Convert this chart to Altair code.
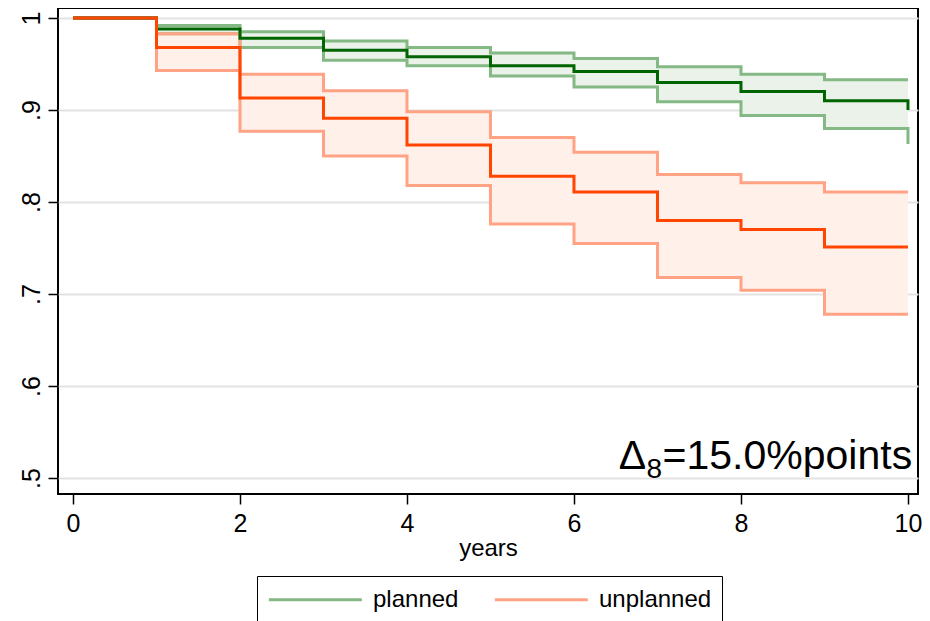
import altair as alt
import pandas as pd

# ---- data ----
years = [0, 1, 2, 3, 4, 5, 6, 7, 8, 9, 10]
groups = ["planned", "unplanned"]

planned_surv  = [1.0, 0.988, 0.978, 0.965, 0.958, 0.948, 0.942, 0.930, 0.920, 0.910, 0.900]
planned_lower = [1.0, 0.983, 0.968, 0.954, 0.948, 0.937, 0.925, 0.909, 0.894, 0.880, 0.863]
planned_upper = [1.0, 0.992, 0.985, 0.975, 0.968, 0.962, 0.956, 0.947, 0.939, 0.933, 0.933]

unplanned_surv  = [1.0, 0.968, 0.913, 0.891, 0.862, 0.828, 0.811, 0.780, 0.770, 0.751, 0.751]
unplanned_lower = [1.0, 0.943, 0.877, 0.850, 0.818, 0.776, 0.755, 0.718, 0.704, 0.678, 0.678]
unplanned_upper = [1.0, 0.983, 0.939, 0.921, 0.898, 0.870, 0.854, 0.830, 0.821, 0.811, 0.811]

x_ticks = [0, 2, 4, 6, 8, 10]
y_ticks = [0.5, 0.6, 0.7, 0.8, 0.9, 1.0]
x_title = "years"

anno_delta = "Δ"
anno_sub = "8"
anno_main = "=15.0%points"
anno_x = [10.05]
anno_y = [0.51]

# ---- tables ----
rows = []
for g, s, lo, hi in [("planned", planned_surv, planned_lower, planned_upper),
                     ("unplanned", unplanned_surv, unplanned_lower, unplanned_upper)]:
    for t, a, b, c in zip(years, s, lo, hi):
        rows.append({"group": g, "t": t, "s": a, "lo": b, "hi": c})
df = pd.DataFrame(rows)
ci_long = df.melt(id_vars=["group", "t"], value_vars=["lo", "hi"],
                  var_name="bound", value_name="v")
anno = pd.DataFrame({"x": anno_x, "y": anno_y,
                     "d": [anno_delta], "sub": [anno_sub], "main": [anno_main]})

FONT = "Liberation Sans"
xs = alt.Scale(domain=[-0.1796, 10.12], nice=False, zero=False)
ys = alt.Scale(domain=[0.4826, 1.0109], nice=False, zero=False)

x_axis = alt.Axis(values=x_ticks, title=x_title, grid=False, domain=False,
                  tickSize=10, tickWidth=1.5, tickColor="black",
                  labelFontSize=25, labelPadding=7, labelFlush=False,
                  labelColor="black", titleFontSize=24, titleFontWeight="normal",
                  titleColor="black", titlePadding=0, format="d")
y_axis = alt.Axis(values=y_ticks, title=None, grid=True, gridColor="#e3e3e3",
                  gridWidth=2, domain=False, tickSize=10, tickWidth=1.5,
                  tickColor="black", labelFontSize=25, labelPadding=9,
                  labelAngle=270, labelAlign="center", labelBaseline="alphabetic",
                  labelColor="black", minExtent=50, maxExtent=50,
                  labelExpr="datum.value == 1 ? '1' : replace(format(datum.value, '.1f'), '0.', '.')")

band = alt.Chart(df).mark_area(interpolate="step-after").encode(
    x=alt.X("t:Q", scale=xs, axis=x_axis),
    y=alt.Y("lo:Q", scale=ys, axis=y_axis),
    y2="hi:Q",
    fill=alt.Fill("group:N", scale=alt.Scale(domain=groups, range=["#eaf2e9", "#fff0ea"]),
                  legend=None),
)

ci = alt.Chart(ci_long).mark_line(interpolate="step-after", strokeWidth=3).encode(
    x=alt.X("t:Q", scale=xs),
    y=alt.Y("v:Q", scale=ys),
    detail="bound:N",
    stroke=alt.Stroke("group:N",
                      scale=alt.Scale(domain=groups, range=["#84b884", "#ffa384"]),
                      legend=alt.Legend(title=None, orient="none", direction="horizontal",
                                        legendX=199, legendY=568,
                                        strokeColor="black", fillColor="white",
                                        padding=10, symbolType="M-1,0H7",
                                        symbolSize=540, symbolStrokeWidth=3,
                                        labelFontSize=24, labelFont=FONT,
                                        labelColor="black", labelOffset=79,
                                        columnPadding=29, cornerRadius=0)),
)

main = alt.Chart(df).mark_line(interpolate="step-after", strokeWidth=3).encode(
    x=alt.X("t:Q", scale=xs),
    y=alt.Y("s:Q", scale=ys),
    stroke=alt.Stroke("group:N",
                      scale=alt.Scale(domain=groups, range=["#006400", "#ff4500"]),
                      legend=None),
)

t_main = alt.Chart(anno).mark_text(align="right", baseline="alphabetic",
                                   fontSize=41, font=FONT, color="black").encode(
    x=alt.X("x:Q", scale=xs), y=alt.Y("y:Q", scale=ys), text="main:N")
t_sub = alt.Chart(anno).mark_text(align="right", baseline="alphabetic",
                                  fontSize=28, font=FONT, color="black",
                                  dx=-250, dy=9).encode(
    x=alt.X("x:Q", scale=xs), y=alt.Y("y:Q", scale=ys), text="sub:N")
t_delta = alt.Chart(anno).mark_text(align="right", baseline="alphabetic",
                                    fontSize=41, font=FONT, color="black",
                                    dx=-266).encode(
    x=alt.X("x:Q", scale=xs), y=alt.Y("y:Q", scale=ys), text="d:N")

chart = alt.layer(band, ci, main, t_main, t_sub, t_delta).resolve_scale(
    stroke="independent", fill="independent"
).properties(
    width=860, height=486, padding=0, background="white"
).configure(font=FONT).configure_view(stroke="black", strokeWidth=2)

chart.save("out.html", embed_options={"renderer": "svg", "actions": False})
